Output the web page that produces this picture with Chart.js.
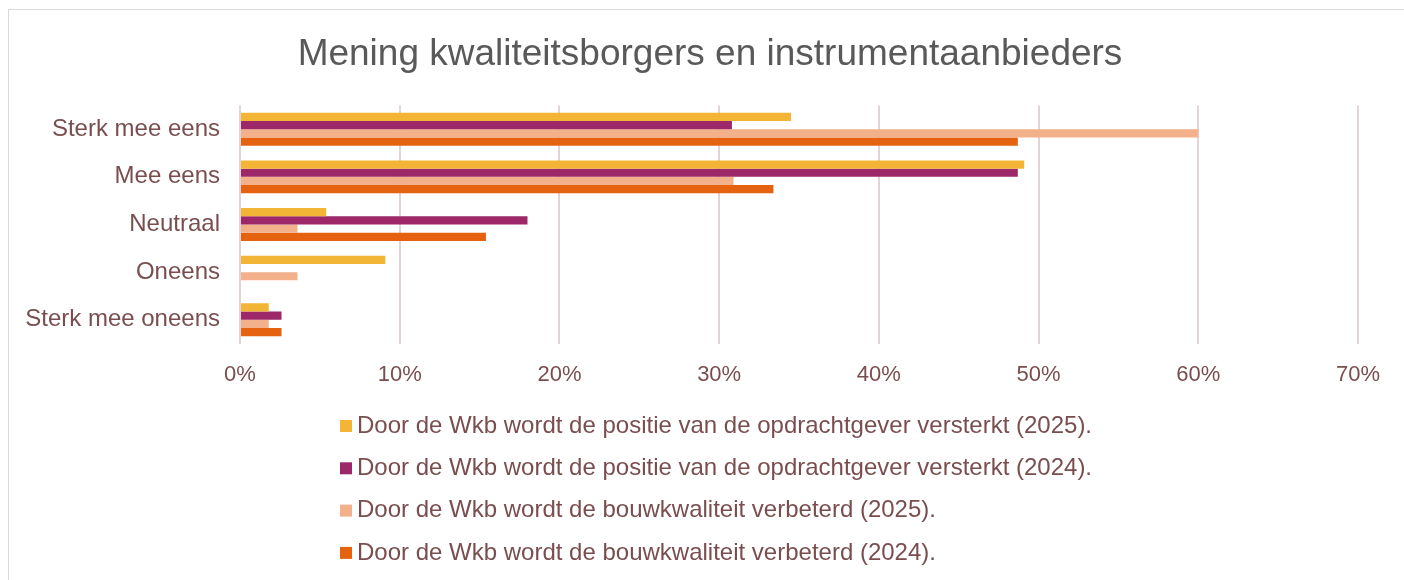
<!DOCTYPE html>
<html>
<head>
<meta charset="utf-8">
<script src="https://cdn.jsdelivr.net/npm/chart.js@4"></script>
<style>
    html, body { margin: 0; padding: 0; background: #fff; }
    .wrap { position: relative; width: 1404px; height: 580px; overflow: hidden; }
    .frame { position: absolute; left: 8px; top: 9px; width: 1420px; height: 600px; border: 1px solid #d9d9d9; box-sizing: border-box; }
    canvas { position: absolute; left: 0; top: 0; }
</style>
</head>
<body>
<div class="wrap">
    <div class="frame"></div>
    <canvas id="chart" width="1404" height="580"></canvas>
</div>
<script>
const categories = ['Sterk mee eens', 'Mee eens', 'Neutraal', 'Oneens', 'Sterk mee oneens'];
const seriesNames = [
    'Door de Wkb wordt de positie van de opdrachtgever versterkt (2025).',
    'Door de Wkb wordt de positie van de opdrachtgever versterkt (2024).',
    'Door de Wkb wordt de bouwkwaliteit verbeterd (2025).',
    'Door de Wkb wordt de bouwkwaliteit verbeterd (2024).'
];
const positie2025 = [0.345, 0.491, 0.054, 0.091, 0.018];
const positie2024 = [0.308, 0.487, 0.180, 0, 0.026];
const kwaliteit2025 = [0.600, 0.309, 0.036, 0.036, 0.018];
const kwaliteit2024 = [0.487, 0.334, 0.154, 0, 0.026];
const seriesColors = ['#F2B535', '#9C2769', '#F2B18B', '#E46210'];
const xTicks = [0, 0.1, 0.2, 0.3, 0.4, 0.5, 0.6, 0.7];
const chartTitle = 'Mening kwaliteitsborgers en instrumentaanbieders';

const textColor = '#7A4E4E';
const fontFamily = '"Liberation Sans", Arial, sans-serif';

// title centred on the whole frame and legend drawn as a left aligned list
const frameText = {
    id: 'frameText',
    afterDraw(chart) {
        const ctx = chart.ctx;
        ctx.save();
        ctx.font = '37px ' + fontFamily;
        ctx.fillStyle = '#595959';
        ctx.textAlign = 'center';
        ctx.textBaseline = 'alphabetic';
        ctx.fillText(chartTitle, (chart.width + 16) / 2, 65);

        const x0 = chart.chartArea.left + 100;
        let y = chart.scales.x.bottom + 20;
        ctx.font = '24px ' + fontFamily;
        ctx.textAlign = 'left';
        ctx.textBaseline = 'middle';
        chart.data.datasets.forEach(ds => {
            ctx.fillStyle = ds.backgroundColor;
            ctx.fillRect(x0, y - 6, 12, 12);
            ctx.fillStyle = textColor;
            ctx.fillText(ds.label, x0 + 17, y);
            y += 42.3;
        });
        ctx.restore();
    }
};

const values = [positie2025, positie2024, kwaliteit2025, kwaliteit2024];

new Chart(document.getElementById('chart'), {
    type: 'bar',
    data: {
        labels: categories,
        datasets: values.map((v, i) => ({
            label: seriesNames[i],
            data: v,
            backgroundColor: seriesColors[i],
            categoryPercentage: 0.69,
            barPercentage: 1
        }))
    },
    options: {
        indexAxis: 'y',
        responsive: false,
        animation: false,
        layout: { padding: { left: 8, right: 46, top: 0, bottom: 174 } },
        plugins: {
            legend: { display: false },
            tooltip: { enabled: false },
            title: {
                // keeps the space; the visible title is drawn by frameText
                display: true,
                text: chartTitle,
                color: 'rgba(0,0,0,0)',
                font: { family: fontFamily, size: 37, weight: 'normal' },
                padding: { top: 28, bottom: 33 }
            }
        },
        scales: {
            x: {
                min: 0,
                max: 0.7,
                afterBuildTicks: s => { s.ticks = xTicks.map(v => ({ value: v })); },
                ticks: {
                    color: textColor,
                    padding: 18,
                    font: { family: fontFamily, size: 22 },
                    callback: v => Math.round(v * 100) + '%'
                },
                grid: { color: '#E2D3D4', lineWidth: 2, drawTicks: false },
                border: { display: false }
            },
            y: {
                afterFit: s => { s.width = 232; },
                ticks: {
                    color: textColor,
                    padding: 12,
                    font: { family: fontFamily, size: 24 }
                },
                grid: { display: false },
                border: { display: false }
            }
        }
    },
    plugins: [frameText]
});
</script>
</body>
</html>
